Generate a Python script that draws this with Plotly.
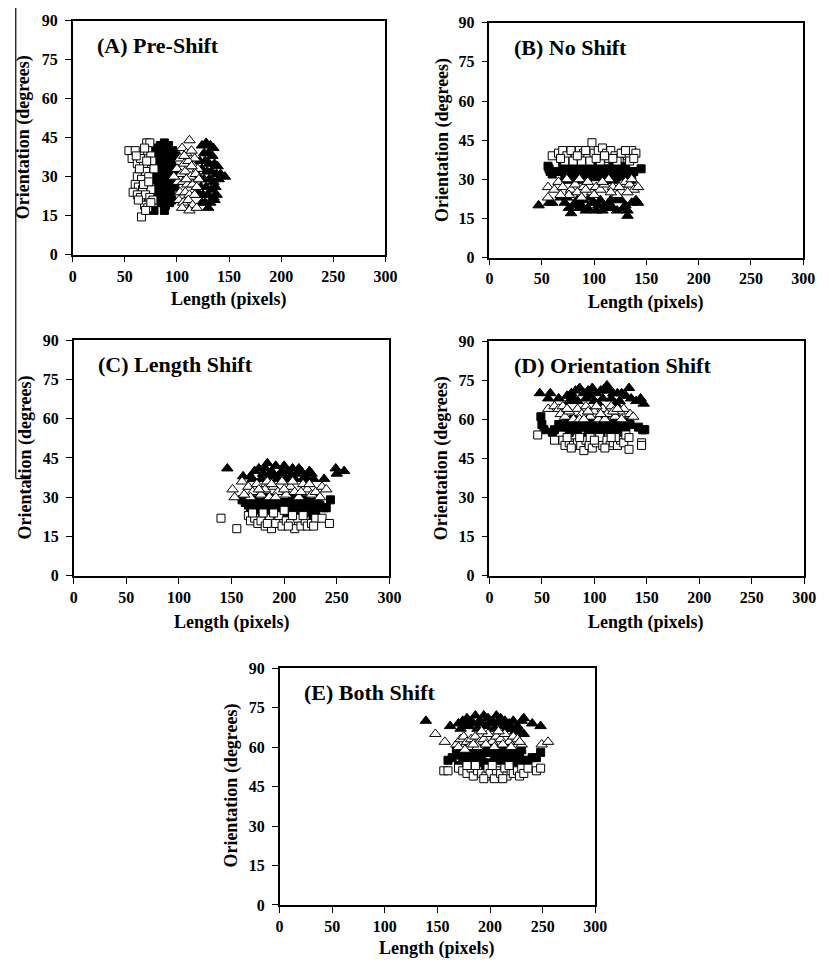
import plotly.graph_objects as go

# ---------------- data (Length in pixels, Orientation in degrees) ----------------
# Panel A: Pre-Shift
A_os_x = [54,60,57,62,65,71,74,72,75,68,64,62,66,70,73,60,63,67,71,75,58,62,65,70,74,77,69,72,66,76,78,71,64,68,73,61,69,75,63,70]
A_os_y = [40,40,37,35,37,43,43,40,38,34,31,30,29,32,30,27,26,25,27,25,24,23,22,23,22,21,19,18,14.5,36,33,36,33,27,28,38,41,20,21,17]
A_fs_x = [80,84,88,92,96,99,82,86,90,94,79,83,87,91,95,98,81,85,89,93,97,80,84,88,92,96,82,86,90,94,79,83,87,91,95,85,89,93,88,78,82,98]
A_fs_y = [41,42,43,42,40,38,38,39,40,37,35,35,36,35,34,33,32,32,33,31,30,29,29,30,28,27,26,26,25,24,23,23,22,22,21,20,19,20,17,17,21,26]
A_ot_x = [112,105,109,114,117,103,107,111,116,120,100,104,108,113,118,101,106,110,115,119,103,108,112,117,102,106,111,115,105,112,119,97,121,109,114,107]
A_ot_y = [44,41,39,40,37,37,35,36,34,33,33,31,32,30,31,28,28,27,27,26,24,24,23,23,21,20,21,19,18,17,18,30,29,29,34,38]
A_ft_x = [124,128,132,135,126,130,134,122,127,131,136,139,124,129,133,138,142,146,121,126,131,135,140,123,128,133,137,125,130,135,138,127,132,136,130,124,120]
A_ft_y = [42,43,42,41,39,39,38,36,36,35,35,34,33,32,32,31,31,30,30,29,29,28,29,26,26,25,26,23,23,22,23,20,20,21,18,20,24]

# Panel B: No Shift
B_os_x = [60,66,70,74,78,82,86,90,94,98,100,104,108,112,116,120,124,128,132,136,140,72,80,88,96,106,114,122,134,138,68,84,92,102,110,118,126,130]
B_os_y = [39,40,41,39,41,38,41,40,38,44,40,41,42,40,41,39,38,40,39,41,40,37,37,37,37,37,38,37,37,38,38,39,41,38,39,38,40,41]
B_fs_x = [56,58,60,66,70,74,78,82,86,90,94,98,102,106,110,114,118,122,126,130,134,138,145,72,80,88,96,104,112,120,128,136,76,92,100,108,116,124,57]
B_fs_y = [35,33,32,33,35,32,34,31,34,33,31,35,33,31,34,32,35,33,31,34,32,33,34,30,30,30,32,35,30,30,35,30,36,36,31,33,30,34,34]
B_ot_x = [56,56,62,66,70,74,78,82,86,90,94,98,102,106,110,114,118,122,126,130,134,138,142,76,84,92,100,108,116,124,132,136,68,88]
B_ot_y = [27,23,26,29,27,30,26,28,30,27,29,25,27,26,28,30,27,24,28,29,28,26,27,24,25,26,24,29,25,27,25,30,24,23]
B_ft_x = [47,57,60,68,72,76,78,82,86,90,94,98,102,106,110,114,118,122,126,130,132,132,136,140,142,74,80,88,96,104,112,120,128,84,92,100,108,116]
B_ft_y = [20,21,21,23,21,19,17,21,19,22,19,21,18,22,20,21,19,18,22,20,16,18,21,22,21,23,20,20,23,20,19,22,19,22,18,21,18,22]

# Panel C: Length Shift
C_os_x = [140,155,166,168,172,175,178,182,186,188,192,195,198,202,206,210,213,216,220,222,226,230,236,243,170,180,190,200,208,218,228,184,204]
C_os_y = [22,18,23,21,22,20,21,19,22,18,20,23,19,21,20,18,22,19,21,19,20,22,22,20,24,24,24,25,23,23,19,20,19]
C_fs_x = [160,163,166,170,174,178,182,186,190,194,198,202,206,210,214,218,222,226,230,234,238,240,244,168,176,184,192,200,208,216,224,232,172,180,188,196,204,212,220,228]
C_fs_y = [29,28,27,29,26,28,25,27,29,24,26,28,25,27,29,24,26,28,25,27,26,26,29,24,24,30,27,24,30,27,23,29,27,26,24,28,27,25,29,26]
C_ot_x = [151,153,160,166,170,174,178,182,186,190,194,198,202,206,210,214,218,222,226,230,236,240,168,176,184,192,200,208,216,224,234,162,188]
C_ot_y = [33,30,36,34,32,35,31,33,30,34,32,36,31,34,32,30,35,33,31,32,34,33,30,33,36,30,33,36,32,35,30,31,35]
C_ft_x = [146,161,168,172,176,180,184,188,192,196,200,204,208,212,216,220,224,226,238,249,250,257,178,186,194,202,210,218,228,170,182,198,214,222,190,206]
C_ft_y = [41,38,38,40,41,39,43,40,42,39,42,40,41,39,40,38,40,39,37,41,39,40,37,38,37,37,37,37,37,37,41,40,41,36,38,38]

# Panel D: Orientation Shift
D_os_x = [46,62,70,72,76,80,84,87,90,92,95,98,102,105,108,112,115,118,122,125,128,130,133,133,145,145,74,86,96,110,120,78,100,116]
D_os_y = [54,52,52,50,51,50,51,50,48,52,50,49,51,53,50,52,50,51,50,52,51,54,53,48.5,51,50,53,53,53,49,53,49,52,53]
D_fs_x = [49,50,52,60,62,66,70,74,78,82,86,90,94,98,102,106,110,114,118,122,126,130,134,142,146,148,76,84,92,100,108,116,124,132,80,96,112,128,88,120]
D_fs_y = [61,58,56,55,56,58,57,59,56,58,60,57,55,59,57,55,60,57,58,56,59,57,58,57,56,56,55,56,59,56,58,55,57,59,60,57,56,55,58,60]
D_ot_x = [56,62,66,68,72,76,80,84,88,92,96,100,104,108,112,116,120,124,128,134,137,70,86,94,102,110,118,126,74,90,106,122]
D_ot_y = [64,65,64,62,61,63,60,64,62,65,61,63,60,64,62,65,61,63,64,62,61,65,60,63,65,60,63,60,64,60,62,64]
D_ft_x = [48,56,58,66,74,78,82,86,90,94,98,102,106,110,112,114,118,122,126,133,135,140,144,147,76,84,92,100,108,116,124,130,80,96,104,120]
D_ft_y = [70,68,70,68,69,70,71,72,70,71,72,70,71,72,73,71,70,70,70,72,68,67,68,66,67,67,68,67,68,68,67,69,68,69,66,66]

# Panel E: Both Shift
E_os_x = [156,160,170,174,178,182,184,188,192,196,198,200,204,206,210,214,216,220,222,226,228,230,232,236,244,248,186,194,202,212,218,178]
E_os_y = [51,51,52,51,50,52,49,51,50,49,52,50,48,51,50,52,49,51,50,51,49,52,50,52,51,52,53,48,53,48,53,53]
E_fs_x = [160,164,170,172,176,180,184,188,192,196,200,204,208,212,216,220,224,228,232,236,240,244,248,168,174,182,190,198,206,214,222,230,186,194,202,210,218,226,178]
E_fs_y = [55,56,53,57,58,55,57,59,56,58,54,57,59,55,57,54,58,56,54,55,56,56,58,59,54,60,53,60,55,60,56,59,55,54,59,57,59,53,57]
E_ot_x = [148,157,168,172,175,178,182,186,190,194,198,202,206,210,214,218,222,226,230,249,255,170,180,188,196,204,212,220,228,176,192,208,184]
E_ot_y = [65,62,61,63,64,62,63,64,62,63,65,62,64,63,65,62,64,63,61,61,62,60,60,60,61,60,61,60,62,59,66,66,61]
E_ft_x = [139,162,170,174,178,182,186,190,194,198,202,206,210,214,218,222,226,230,232,240,248,172,180,188,196,204,212,220,228,232,176,192,208,224,184,200,216]
E_ft_y = [70,68,69,70,71,70,72,70,72,71,70,72,71,70,69,70,68,70,71,69,68,67,68,67,68,67,68,67,66,65,68,69,69,66,69,69,67]

panel_titles = ["(A) Pre-Shift", "(B) No Shift", "(C) Length Shift", "(D) Orientation Shift", "(E) Both Shift"]
x_title = "Length (pixels)"
y_title = "Orientation (degrees)"
x_ticks = [0, 50, 100, 150, 200, 250, 300]
y_ticks = [0, 15, 30, 45, 60, 75, 90]

panels = [
    (A_os_x, A_os_y, A_fs_x, A_fs_y, A_ot_x, A_ot_y, A_ft_x, A_ft_y),
    (B_os_x, B_os_y, B_fs_x, B_fs_y, B_ot_x, B_ot_y, B_ft_x, B_ft_y),
    (C_os_x, C_os_y, C_fs_x, C_fs_y, C_ot_x, C_ot_y, C_ft_x, C_ft_y),
    (D_os_x, D_os_y, D_fs_x, D_fs_y, D_ot_x, D_ot_y, D_ft_x, D_ft_y),
    (E_os_x, E_os_y, E_fs_x, E_fs_y, E_ot_x, E_ot_y, E_ft_x, E_ft_y),
]

# ---------------- layout geometry (pixels) ----------------
W, H = 829, 968
# (left, right, top, bottom) of each plot area in pixels
boxes = [
    (70, 389, 13, 251),
    (495, 815, 15, 254),
    (71, 393, 338, 578),
    (495, 816, 339, 578),
    (281, 603, 672, 913),
]
xtitle_pos = [(229, 297), (655, 300), (232, 625), (655, 625), (442, 957)]
ytitle_pos = [(20, 132), (447, 134), (22, 458), (447, 458), (232, 792)]

FONT = "Liberation Serif"
fig = go.Figure()
layout = dict(
    width=W, height=H, margin=dict(l=0, r=0, t=0, b=0),
    paper_bgcolor="white", plot_bgcolor="white", showlegend=False,
    font=dict(family=FONT, color="black"),
)
annotations = []

for i, (pdata, box) in enumerate(zip(panels, boxes)):
    n = i + 1
    xa = "x" if n == 1 else f"x{n}"
    ya = "y" if n == 1 else f"y{n}"
    osx, osy, fsx, fsy, otx, oty, ftx, fty = pdata
    series = [
        (ftx, fty, "triangle-up", "black", 10),
        (fsx, fsy, "square", "black", 8),
        (otx, oty, "triangle-up", "white", 10),
        (osx, osy, "square", "white", 8),
    ]
    for sx, sy, sym, fill, size in series:
        fig.add_trace(go.Scatter(
            x=sx, y=sy, mode="markers", xaxis=xa, yaxis=ya,
            marker=dict(symbol=sym, size=size, color=fill,
                        line=dict(color="black", width=1)),
            hoverinfo="skip"))
    l, r, t, b = box
    axis_common = dict(
        showline=True, linecolor="black", linewidth=1.5, mirror=True,
        ticks="outside", ticklen=6, tickwidth=1.2, tickcolor="black",
        showgrid=False, zeroline=False,
        tickfont=dict(family=FONT, size=16, color="black", weight="bold"),
    )
    layout["xaxis" if n == 1 else f"xaxis{n}"] = dict(
        axis_common, domain=[l / W, r / W], range=[0, 300],
        tickvals=x_ticks, anchor=ya)
    layout["yaxis" if n == 1 else f"yaxis{n}"] = dict(
        axis_common, domain=[1 - b / H, 1 - t / H], range=[0, 90],
        tickvals=y_ticks, anchor=xa, ticklabelstandoff=4)
    # panel title
    annotations.append(dict(
        text=f"<b>{panel_titles[i]}</b>", xref="paper", yref="paper",
        x=(l + 23) / W, y=1 - (t + 25) / H, xanchor="left", yanchor="middle",
        showarrow=False, font=dict(family=FONT, size=22, color="black")))
    # axis titles
    xt = xtitle_pos[i]
    annotations.append(dict(
        text=f"<b>{x_title}</b>", xref="paper", yref="paper",
        x=xt[0] / W, y=1 - xt[1] / H, xanchor="center", yanchor="middle",
        showarrow=False, font=dict(family=FONT, size=18, color="black")))
    yt = ytitle_pos[i]
    annotations.append(dict(
        text=f"<b>{y_title}</b>", xref="paper", yref="paper",
        x=yt[0] / W, y=1 - yt[1] / H, xanchor="center", yanchor="middle",
        textangle=-90, showarrow=False,
        font=dict(family=FONT, size=18, color="black")))

layout["annotations"] = annotations
# scan artefact: thin vertical rule at the far left
layout["shapes"] = [
    dict(type="line", xref="paper", yref="paper", x0=12 / W, x1=12 / W,
         y0=1, y1=1 - 479 / H, line=dict(color="black", width=1.2)),
    dict(type="line", xref="paper", yref="paper", x0=12 / W, x1=27 / W,
         y0=1 - 479 / H, y1=1 - 479 / H, line=dict(color="black", width=1.2)),
]
fig.update_layout(**layout)
fig.write_html("out.html")
